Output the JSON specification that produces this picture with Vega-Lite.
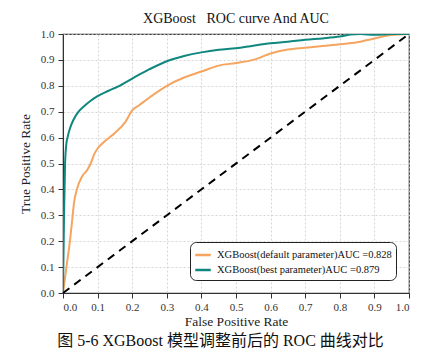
{
  "$schema": "https://vega.github.io/schema/vega-lite/v6.json",
  "padding": {"left": 18, "top": 12, "right": 5, "bottom": 5},
  "width": 346,
  "height": 259,
  "config": {
    "font": "Liberation Serif",
    "view": {"stroke": "#333333", "strokeWidth": 1.2},
    "axis": {
      "labelFont": "Liberation Serif",
      "titleFont": "Liberation Serif",
      "labelFontSize": 11,
      "titleFontSize": 13.5,
      "titleFontWeight": "normal",
      "labelColor": "#333",
      "titleColor": "#222",
      "domainColor": "#333",
      "tickColor": "#333",
      "gridColor": "#cccccc",
      "gridDash": [2, 2],
      "gridWidth": 0.8,
      "labelOverlap": false
    }
  },
  "title": {
    "text": "XGBoost\u00a0\u00a0\u00a0ROC curve And AUC",
    "font": "Liberation Serif",
    "fontSize": 14,
    "fontWeight": "normal",
    "color": "#111",
    "offset": 2
  },
  "datasets": {
    "roc": [
      {"model": "XGBoost(default parameter)AUC =0.828", "fpr": 0, "tpr": 0},
      {"model": "XGBoost(default parameter)AUC =0.828", "fpr": 0.01, "tpr": 0.1},
      {"model": "XGBoost(default parameter)AUC =0.828", "fpr": 0.02, "tpr": 0.2},
      {"model": "XGBoost(default parameter)AUC =0.828", "fpr": 0.028, "tpr": 0.3},
      {"model": "XGBoost(default parameter)AUC =0.828", "fpr": 0.032, "tpr": 0.35},
      {"model": "XGBoost(default parameter)AUC =0.828", "fpr": 0.04, "tpr": 0.4},
      {"model": "XGBoost(default parameter)AUC =0.828", "fpr": 0.055, "tpr": 0.45},
      {"model": "XGBoost(default parameter)AUC =0.828", "fpr": 0.07, "tpr": 0.475},
      {"model": "XGBoost(default parameter)AUC =0.828", "fpr": 0.08, "tpr": 0.5},
      {"model": "XGBoost(default parameter)AUC =0.828", "fpr": 0.09, "tpr": 0.535},
      {"model": "XGBoost(default parameter)AUC =0.828", "fpr": 0.1, "tpr": 0.558},
      {"model": "XGBoost(default parameter)AUC =0.828", "fpr": 0.12, "tpr": 0.585},
      {"model": "XGBoost(default parameter)AUC =0.828", "fpr": 0.15, "tpr": 0.618},
      {"model": "XGBoost(default parameter)AUC =0.828", "fpr": 0.18, "tpr": 0.66},
      {"model": "XGBoost(default parameter)AUC =0.828", "fpr": 0.2, "tpr": 0.705},
      {"model": "XGBoost(default parameter)AUC =0.828", "fpr": 0.22, "tpr": 0.725},
      {"model": "XGBoost(default parameter)AUC =0.828", "fpr": 0.25, "tpr": 0.755},
      {"model": "XGBoost(default parameter)AUC =0.828", "fpr": 0.3, "tpr": 0.8},
      {"model": "XGBoost(default parameter)AUC =0.828", "fpr": 0.35, "tpr": 0.832},
      {"model": "XGBoost(default parameter)AUC =0.828", "fpr": 0.4, "tpr": 0.855},
      {"model": "XGBoost(default parameter)AUC =0.828", "fpr": 0.45, "tpr": 0.878},
      {"model": "XGBoost(default parameter)AUC =0.828", "fpr": 0.5, "tpr": 0.888},
      {"model": "XGBoost(default parameter)AUC =0.828", "fpr": 0.55, "tpr": 0.9},
      {"model": "XGBoost(default parameter)AUC =0.828", "fpr": 0.6, "tpr": 0.925},
      {"model": "XGBoost(default parameter)AUC =0.828", "fpr": 0.65, "tpr": 0.94},
      {"model": "XGBoost(default parameter)AUC =0.828", "fpr": 0.7, "tpr": 0.947},
      {"model": "XGBoost(default parameter)AUC =0.828", "fpr": 0.75, "tpr": 0.954},
      {"model": "XGBoost(default parameter)AUC =0.828", "fpr": 0.8, "tpr": 0.96},
      {"model": "XGBoost(default parameter)AUC =0.828", "fpr": 0.85, "tpr": 0.968},
      {"model": "XGBoost(default parameter)AUC =0.828", "fpr": 0.9, "tpr": 0.983},
      {"model": "XGBoost(default parameter)AUC =0.828", "fpr": 0.95, "tpr": 0.996},
      {"model": "XGBoost(default parameter)AUC =0.828", "fpr": 1, "tpr": 1},
      {"model": "XGBoost(best parameter)AUC =0.879", "fpr": 0, "tpr": 0},
      {"model": "XGBoost(best parameter)AUC =0.879", "fpr": 0.003, "tpr": 0.3},
      {"model": "XGBoost(best parameter)AUC =0.879", "fpr": 0.006, "tpr": 0.5},
      {"model": "XGBoost(best parameter)AUC =0.879", "fpr": 0.01, "tpr": 0.58},
      {"model": "XGBoost(best parameter)AUC =0.879", "fpr": 0.013, "tpr": 0.6},
      {"model": "XGBoost(best parameter)AUC =0.879", "fpr": 0.02, "tpr": 0.635},
      {"model": "XGBoost(best parameter)AUC =0.879", "fpr": 0.03, "tpr": 0.668},
      {"model": "XGBoost(best parameter)AUC =0.879", "fpr": 0.045, "tpr": 0.7},
      {"model": "XGBoost(best parameter)AUC =0.879", "fpr": 0.06, "tpr": 0.72},
      {"model": "XGBoost(best parameter)AUC =0.879", "fpr": 0.08, "tpr": 0.742},
      {"model": "XGBoost(best parameter)AUC =0.879", "fpr": 0.1, "tpr": 0.76},
      {"model": "XGBoost(best parameter)AUC =0.879", "fpr": 0.13, "tpr": 0.78},
      {"model": "XGBoost(best parameter)AUC =0.879", "fpr": 0.16, "tpr": 0.798},
      {"model": "XGBoost(best parameter)AUC =0.879", "fpr": 0.2, "tpr": 0.828},
      {"model": "XGBoost(best parameter)AUC =0.879", "fpr": 0.25, "tpr": 0.864},
      {"model": "XGBoost(best parameter)AUC =0.879", "fpr": 0.3, "tpr": 0.895},
      {"model": "XGBoost(best parameter)AUC =0.879", "fpr": 0.35, "tpr": 0.915},
      {"model": "XGBoost(best parameter)AUC =0.879", "fpr": 0.4, "tpr": 0.929},
      {"model": "XGBoost(best parameter)AUC =0.879", "fpr": 0.45, "tpr": 0.939},
      {"model": "XGBoost(best parameter)AUC =0.879", "fpr": 0.5, "tpr": 0.945},
      {"model": "XGBoost(best parameter)AUC =0.879", "fpr": 0.55, "tpr": 0.955},
      {"model": "XGBoost(best parameter)AUC =0.879", "fpr": 0.6, "tpr": 0.964},
      {"model": "XGBoost(best parameter)AUC =0.879", "fpr": 0.65, "tpr": 0.97},
      {"model": "XGBoost(best parameter)AUC =0.879", "fpr": 0.7, "tpr": 0.978},
      {"model": "XGBoost(best parameter)AUC =0.879", "fpr": 0.75, "tpr": 0.983},
      {"model": "XGBoost(best parameter)AUC =0.879", "fpr": 0.8, "tpr": 0.99},
      {"model": "XGBoost(best parameter)AUC =0.879", "fpr": 0.83, "tpr": 0.998},
      {"model": "XGBoost(best parameter)AUC =0.879", "fpr": 0.86, "tpr": 1.0},
      {"model": "XGBoost(best parameter)AUC =0.879", "fpr": 0.9, "tpr": 0.997},
      {"model": "XGBoost(best parameter)AUC =0.879", "fpr": 0.95, "tpr": 1.0},
      {"model": "XGBoost(best parameter)AUC =0.879", "fpr": 1, "tpr": 1}
    ],
    "diag": [
      {"fpr": 0, "tpr": 0},
      {"fpr": 1, "tpr": 1}
    ]
  },
  "resolve": {"axis": {"x": "independent"}},
  "layer": [
    {
      "data": {"name": "roc"},
      "mark": {"type": "line", "strokeWidth": 2, "interpolate": "monotone", "clip": true},
      "encoding": {
        "x": {
          "field": "fpr",
          "type": "quantitative",
          "scale": {"domain": [0, 1], "nice": false},
          "axis": {"title": "False Positive Rate", "orient": "bottom", "values": [0, 0.1, 0.2, 0.3, 0.4, 0.5, 0.6, 0.7, 0.8, 0.9, 1.0], "format": ".1f", "labelPadding": 3, "titlePadding": 2, "tickSize": 5}
        },
        "y": {
          "field": "tpr",
          "type": "quantitative",
          "scale": {"domain": [0, 1], "nice": false},
          "axis": {"title": "True Positive Rate", "values": [0, 0.1, 0.2, 0.3, 0.4, 0.5, 0.6, 0.7, 0.8, 0.9, 1.0], "format": ".1f", "labelPadding": 4, "titlePadding": 8, "tickSize": 5}
        },
        "color": {
          "field": "model",
          "type": "nominal",
          "sort": ["XGBoost(default parameter)AUC =0.828", "XGBoost(best parameter)AUC =0.879"],
          "scale": {
            "domain": ["XGBoost(default parameter)AUC =0.828", "XGBoost(best parameter)AUC =0.879"],
            "range": ["#F5A55F", "#10877E"]
          },
          "legend": {
            "title": null,
            "orient": "bottom-right",
            "offset": 13,
            "symbolType": "stroke",
            "symbolStrokeWidth": 2.5,
            "symbolSize": 240,
            "labelFont": "Liberation Serif",
            "labelFontSize": 10.5,
            "labelColor": "#111",
            "strokeColor": "#222",
            "cornerRadius": 6,
            "padding": 4,
            "fillColor": "white",
            "rowPadding": 0,
            "labelOffset": 5,
            "labelLimit": 300
          }
        }
      }
    },
    {
      "data": {"name": "diag"},
      "mark": {"type": "line", "color": "black", "strokeWidth": 2, "strokeDash": [8, 6]},
      "encoding": {
        "x": {
          "field": "fpr",
          "type": "quantitative",
          "scale": {"domain": [0, 1], "nice": false},
          "axis": {
            "orient": "bottom",
            "offset": 39,
            "title": "图 5-6 XGBoost 模型调整前后的 ROC 曲线对比",
            "titleFont": "Liberation Serif, Noto Sans CJK SC",
            "titleFontSize": 16,
            "titleColor": "#111",
            "titleX": 157,
            "labels": false,
            "ticks": false,
            "domain": false,
            "grid": false,
            "titlePadding": 0
          }
        },
        "y": {"field": "tpr", "type": "quantitative", "axis": {"values": [0, 0.1, 0.2, 0.3, 0.4, 0.5, 0.6, 0.7, 0.8, 0.9, 1.0], "format": ".1f"}}
      }
    }
  ]
}
